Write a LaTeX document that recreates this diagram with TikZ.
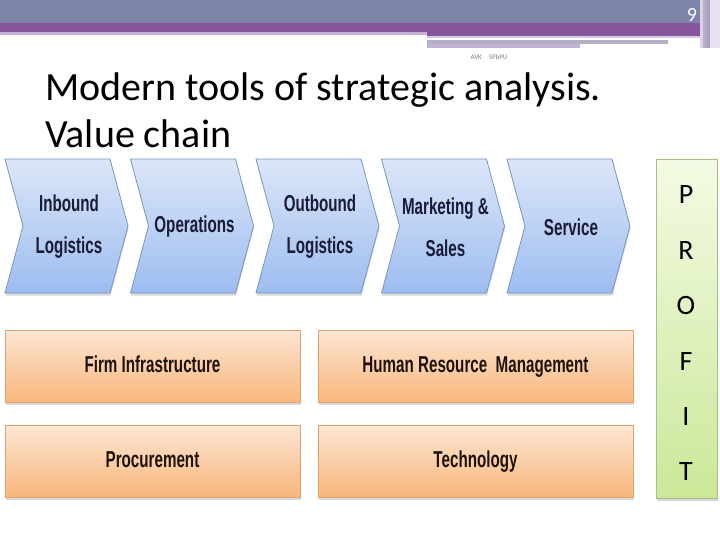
\documentclass[tikz,border=0pt]{standalone}
\usepackage{fontspec}
\setmainfont{Carlito}
\newfontfamily\narrowfont[FakeStretch=0.66]{Liberation Sans Bold}
\usetikzlibrary{shadows}
\definecolor{hdrblue}{HTML}{7E83A8}
\definecolor{hdrpurple}{HTML}{86559B}
\definecolor{hdrlilac}{HTML}{C4B2D6}
\definecolor{hdrgray}{HTML}{B2AFC6}
\definecolor{chevtop}{HTML}{DCE6F8}
\definecolor{chevbot}{HTML}{9DBDF0}
\definecolor{chevline}{HTML}{7895C4}
\definecolor{chevink}{HTML}{1B1B36}
\definecolor{suptop}{HTML}{FCE6D3}
\definecolor{supbot}{HTML}{F9B67C}
\definecolor{supline}{HTML}{DFA26A}
\definecolor{proftop}{HTML}{F4FAE4}
\definecolor{profbot}{HTML}{CBE898}
\definecolor{profline}{HTML}{A7BE86}

\begin{document}
\begin{tikzpicture}[
    x=1pt, y=-1pt,
    boxshadow/.style={drop shadow={shadow xshift=0.5pt, shadow yshift=-2.5pt, opacity=0.3}},
    chev/.style={draw=chevline, line width=0.8pt, top color=chevtop, bottom color=chevbot, boxshadow},
    chevtext/.style={font=\narrowfont\fontsize{23}{42}\selectfont, text=chevink, align=center},
    supbox/.style={draw=supline, line width=0.8pt, top color=suptop, bottom color=supbot, boxshadow,
        minimum width=295, minimum height=72, inner sep=0pt, text height=17pt, text depth=5pt,
        font=\narrowfont\fontsize{23}{26}\selectfont, text=black!85!brown},
    profbox/.style={draw=profline, line width=0.8pt, top color=proftop, bottom color=profbot, boxshadow,
        minimum width=61, minimum height=339, inner sep=0pt},
    profletter/.style={font=\fontsize{28}{30}\selectfont, text=black, inner sep=0pt}
]
\useasboundingbox (0,0) rectangle (720,540);

% 1. Geometric parameters of the primary chain
\pgfmathsetmacro{\ChevLeft}{5}
\pgfmathsetmacro{\ChevStep}{125.5}
\pgfmathsetmacro{\ChevBody}{105}
\pgfmathsetmacro{\ChevTip}{18}
\pgfmathsetmacro{\ChevTop}{159}
\pgfmathsetmacro{\ChevBot}{293}
\pgfmathsetmacro{\ChevMid}{(\ChevTop+\ChevBot)/2}

% 2. Slide header bands
\fill[hdrblue] (0,0) rectangle (720,23);
\fill[hdrpurple] (0,23) rectangle (700,32);
\fill[hdrlilac] (0,32) rectangle (427,35);
\fill[hdrpurple] (427,32) rectangle (700,36);
\fill[hdrlilac!70] (427,36) rectangle (700,38);
\fill[hdrgray] (427,40) rectangle (668,44);
\fill[hdrlilac] (427,44) rectangle (580,48);
\fill[hdrlilac!60] (700,0) rectangle (703,48);
\fill[hdrgray] (703,0) rectangle (707,48);
\fill[hdrpurple!60] (707,0) rectangle (710,48);
\fill[hdrlilac!40] (710,0) rectangle (720,48);
\node[text=white, font=\fontsize{20}{22}\selectfont] (pagenum) at (692,15) {9};
\node[text=gray, font=\fontsize{7}{8}\selectfont] (footer) at (489,57) {AVK\quad SPbPU};

% 3. Title
\node[anchor=base west, inner sep=0pt, font=\fontsize{40}{42}\selectfont] (title) at (45,101) {Modern tools of strategic analysis.};
\node[anchor=base west, inner sep=0pt, font=\fontsize{40}{42}\selectfont] (subtitle) at (45,148) {Value chain};

% 4. Primary activities (chevrons)
\foreach \i/\nm/\txt in {0/inbound/{Inbound\\Logistics}, 1/operations/{Operations},
    2/outbound/{Outbound\\Logistics}, 3/marketing/{Marketing \&\\Sales}, 4/service/{Service}} {
    \pgfmathsetmacro{\xa}{\ChevLeft+\ChevStep*\i}
    \path[chev] (\xa,\ChevTop) -- (\xa+\ChevBody,\ChevTop) -- (\xa+\ChevBody+\ChevTip,\ChevMid)
        -- (\xa+\ChevBody,\ChevBot) -- (\xa,\ChevBot) -- (\xa+\ChevTip,\ChevMid) -- cycle;
    \node[chevtext] (\nm) at (\xa+64,\ChevMid+1) {\txt};
}

% 5. Support activities
\node[supbox] (firm) at (152.5,366) {Firm Infrastructure};
\node[supbox, minimum width=315] (hrm) at (475.5,366) {Human\ Resource\ \ Management};
\node[supbox] (procure) at (152.5,461.5) {Procurement};
\node[supbox, minimum width=315] (tech) at (475.5,461.5) {Technology};

% 6. Margin column
\node[profbox] (profit) at (686.5,328.5) {};
\foreach \ch [count=\k] in {P,R,O,F,I,T} {
    \node[profletter] (letter\k) at (686,{195+55.4*(\k-1)}) {\ch};
}

\end{tikzpicture}
\end{document}
